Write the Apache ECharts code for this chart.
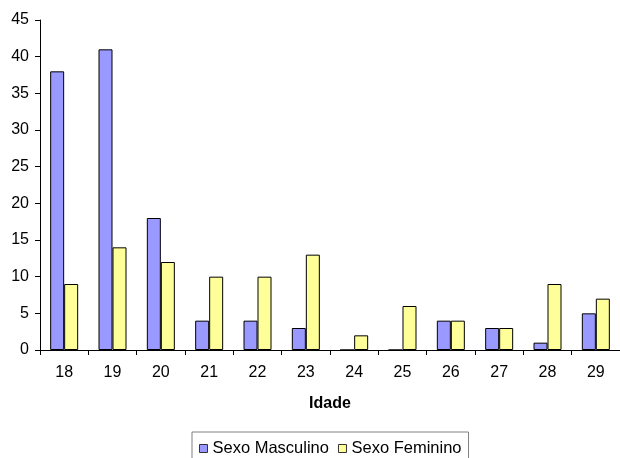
<!DOCTYPE html>
<html>
<head>
<meta charset="utf-8">
<script src="https://cdn.jsdelivr.net/npm/echarts@6/dist/echarts.min.js"></script>
<style>
  html, body { margin: 0; padding: 0; background: #fff; }
  #chart { width: 620px; height: 458px; }
</style>
</head>
<body>
<div id="chart"></div>
<script>
// Ages on the x axis
const idades = ['18', '19', '20', '21', '22', '23', '24', '25', '26', '27', '28', '29'];
// Counts per age group
const masculino = [38, 41, 18, 4, 4, 3, 0, 0, 4, 3, 1, 5];
const feminino = [9, 14, 12, 10, 10, 13, 2, 6, 4, 3, 9, 7];
const yTicks = { min: 0, max: 45, interval: 5 };

const chart = echarts.init(document.getElementById('chart'), null, { renderer: 'canvas' });
const font = 'Liberation Sans, Arial, sans-serif';

chart.setOption({
  animation: false,
  textStyle: { fontFamily: font },
  grid: { left: 40, right: -4, top: 20, bottom: 108, containLabel: false },
  legend: {
    left: 192,
    top: 432,
    icon: 'rect',
    itemWidth: 8,
    itemHeight: 8,
    itemGap: 9,
    padding: [8, 7, 8, 7],
    borderColor: '#808080',
    borderWidth: 1,
    itemStyle: { borderColor: '#333', borderWidth: 1 },
    textStyle: { fontFamily: font, fontSize: 16.5, color: '#000' },
    data: ['Sexo Masculino', 'Sexo Feminino']
  },
  xAxis: {
    type: 'category',
    data: idades,
    name: 'Idade',
    nameLocation: 'middle',
    nameGap: 46,
    nameTextStyle: { fontFamily: font, fontSize: 16, fontWeight: 'bold', color: '#000' },
    axisLine: { lineStyle: { color: '#000', width: 1 } },
    axisTick: { show: true, length: 5, lineStyle: { color: '#000' } },
    axisLabel: { fontFamily: font, fontSize: 16, color: '#000', margin: 15 },
    splitLine: { show: false }
  },
  yAxis: {
    type: 'value',
    min: yTicks.min,
    max: yTicks.max,
    interval: yTicks.interval,
    axisLine: { show: true, lineStyle: { color: '#000', width: 1 } },
    axisTick: { show: true, length: 5, inside: false, lineStyle: { color: '#000' } },
    axisLabel: { fontFamily: font, fontSize: 16, color: '#000', margin: 11 },
    splitLine: { show: false }
  },
  series: [
    {
      name: 'Sexo Masculino',
      type: 'bar',
      data: masculino,
      barWidth: 14,
      barGap: '0%',
      itemStyle: { color: '#9999FF', borderColor: '#000', borderWidth: 1 }
    },
    {
      name: 'Sexo Feminino',
      type: 'bar',
      data: feminino,
      barWidth: 14,
      barGap: '0%',
      itemStyle: { color: '#FFFF99', borderColor: '#000', borderWidth: 1 }
    }
  ]
});
</script>
</body>
</html>
